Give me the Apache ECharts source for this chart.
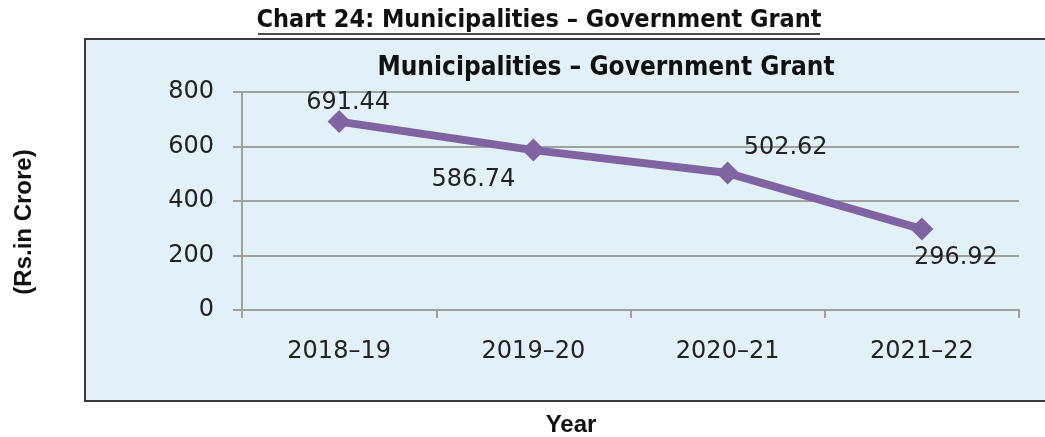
<!DOCTYPE html>
<html>
<head>
<meta charset="utf-8">
<script src="https://cdn.jsdelivr.net/npm/echarts@6/dist/echarts.min.js"></script>
<style>
html,body{margin:0;padding:0;background:#fff;}
#chart{width:1045px;height:437px;}
</style>
</head>
<body>
<div id="chart"></div>
<script>
// Municipal government grant by year (Rs. in crore)
const years = ['2018\u201319', '2019\u201320', '2020\u201321', '2021\u201322'];
const grant = [691.44, 586.74, 502.62, 296.92];
const yTicks = [0, 200, 400, 600, 800];

// label placement per point (dx, dy from the marker)
const labelOffsets = [[9, -19], [-60, 30], [58, -25], [34, 29]];

const chart = echarts.init(document.getElementById('chart'));
const narrow = "'DejaVu Sans Condensed','Liberation Sans Narrow',sans-serif";
const sans = "'DejaVu Sans',sans-serif";
const boldSans = "'Liberation Sans',Arial,sans-serif";

chart.setOption({
  animation: false,
  backgroundColor: '#ffffff',
  graphic: [
    {
      type: 'rect', z: -10,
      shape: {x: 85, y: 39, width: 1000, height: 362},
      style: {fill: '#e2f0f8', stroke: '#3a3a3a', lineWidth: 2}
    },
    {
      type: 'text', x: 539, y: 20,
      style: {text: 'Chart 24: Municipalities \u2013 Government Grant', font: 'bold 25px ' + narrow,
              fill: '#111', align: 'center', verticalAlign: 'middle'}
    },
    {
      type: 'line', shape: {x1: 258, y1: 34, x2: 820, y2: 34},
      style: {stroke: '#111', lineWidth: 1.5}
    },
    {
      type: 'text', x: 606, y: 68,
      style: {text: 'Municipalities \u2013 Government Grant', font: 'bold 26px ' + narrow,
              fill: '#111', align: 'center', verticalAlign: 'middle'}
    },
    {
      type: 'text', x: 571, y: 425,
      style: {text: 'Year', font: 'bold 24px ' + boldSans, fill: '#111',
              align: 'center', verticalAlign: 'middle'}
    },
    {
      type: 'text', x: 24, y: 222, rotation: Math.PI / 2,
      style: {text: '(Rs.in Crore)', font: 'bold 24px ' + boldSans, fill: '#111',
              align: 'center', verticalAlign: 'middle'}
    }
  ],
  grid: {left: 242, right: 26, top: 92, bottom: 127},
  xAxis: {
    type: 'category',
    data: years,
    axisLine: {lineStyle: {color: '#a0a0a0', width: 2}},
    axisTick: {show: true, length: 8, lineStyle: {color: '#a0a0a0', width: 2}},
    axisLabel: {fontSize: 24, fontFamily: sans, color: '#222', margin: 30}
  },
  yAxis: {
    type: 'value',
    min: 0, max: 800, interval: 200,
    axisLine: {show: true, lineStyle: {color: '#a0a0a0', width: 2}},
    axisTick: {show: true, length: 9, lineStyle: {color: '#a0a0a0', width: 2}},
    splitLine: {lineStyle: {color: '#a0a0a0', width: 2}},
    axisLabel: {
      fontSize: 24, fontFamily: sans, color: '#222', margin: 28,
      formatter: v => yTicks.includes(v) ? String(v) : ''
    }
  },
  series: [{
    type: 'line',
    data: grant.map((v, i) => ({
      value: v,
      label: {offset: labelOffsets[i]}
    })),
    symbol: 'diamond',
    symbolSize: 23,
    lineStyle: {color: '#8064a2', width: 8},
    itemStyle: {color: '#8064a2'},
    label: {
      show: true, position: 'inside',
      fontSize: 24, fontFamily: sans, color: '#222',
      formatter: p => p.value.toFixed(2)
    }
  }]
});
</script>
</body>
</html>
